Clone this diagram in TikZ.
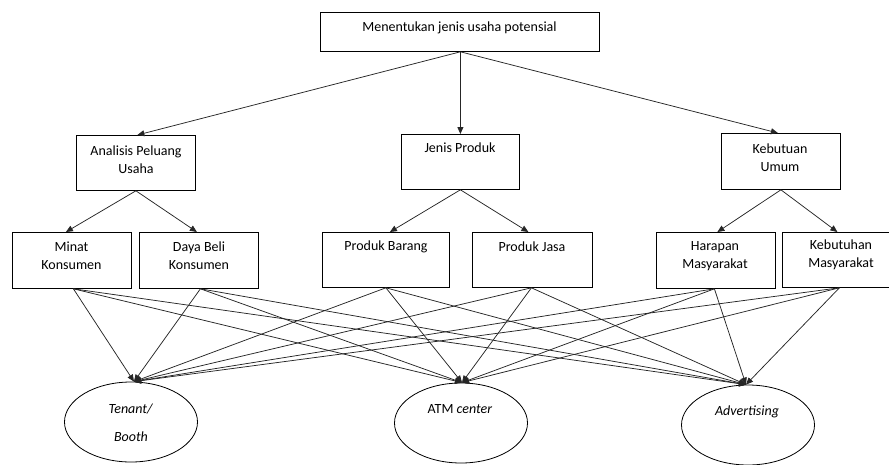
\documentclass[tikz,border=0pt]{standalone}
\usepackage{fontspec}
\setmainfont{Carlito}
\usetikzlibrary{shapes.geometric,arrows.meta}
\begin{document}
\begin{tikzpicture}[x=1pt,y=-1pt,
  box/.style={draw, line width=0.8pt, inner sep=0pt, anchor=north west},
  txt/.style={font=\fontsize{14}{18}\selectfont, align=center, inner sep=0pt},
  oval/.style={draw, ellipse, line width=0.8pt, inner sep=0pt, minimum width=133pt, minimum height=80pt},
  arr/.style={-{Triangle[length=7pt,width=6pt]}, line width=0.75pt, draw=black!85}]
\useasboundingbox (0,0) rectangle (889,464);

% boxes
\node[box, minimum width=279pt, minimum height=39pt] (top) at (320,12) {};
\node[box, minimum width=119pt, minimum height=55pt] (ana) at (76,135) {};
\node[box, minimum width=118pt, minimum height=55pt] (jen) at (401,134) {};
\node[box, minimum width=119pt, minimum height=56pt] (keb) at (721,133) {};
\node[box, minimum width=119pt, minimum height=56pt] (min) at (12,232) {};
\node[box, minimum width=119pt, minimum height=56pt] (day) at (139,232) {};
\node[box, minimum width=127pt, minimum height=55pt] (bar) at (322,232) {};
\node[box, minimum width=120pt, minimum height=55pt] (jas) at (472,232) {};
\node[box, minimum width=119pt, minimum height=56pt] (har) at (656,232) {};
\node[box, minimum width=118pt, minimum height=55pt] (kbm) at (782,232) {};

% texts
\node[txt] (ttop) at (459.5,28) {Menentukan jenis usaha potensial};
\node[txt] (tana) at (136,159.5) {Analisis Peluang\\Usaha};
\node[txt] (tjen) at (460,148) {Jenis Produk};
\node[txt] (tkeb) at (780,158) {Kebutuan\\Umum};
\node[txt] (tmin) at (71.5,256) {Minat\\Konsumen};
\node[txt] (tday) at (199,256) {Daya Beli\\Konsumen};
\node[txt] (tbar) at (386,247) {Produk Barang};
\node[txt] (tjas) at (532,247) {Produk Jasa};
\node[txt] (thar) at (715,256) {Harapan\\Masyarakat};
\node[txt] (tkbm) at (841,255) {Kebutuhan\\Masyarakat};

% ellipses
\node[oval] (ten) at (131,422) {};
\node[oval] (atm) at (461,423) {};
\node[oval] (adv) at (748,425) {};
\node[txt] (tten) at (131,409) {\textit{Tenant/}};
\node[txt] (tten2) at (131,437) {\textit{Booth}};
\node[txt] (tatm) at (460,409) {ATM \textit{center}};
\node[txt] (tadv) at (747,412) {\textit{Advertising}};

% level 1 -> level 2
\draw[arr] ([xshift=0.5pt]top.south) -- ([xshift=1.5pt]ana.north);
\draw[arr] ([xshift=0.5pt]top.south) -- (jen.north);
\draw[arr] ([xshift=0.5pt]top.south) -- ([xshift=-3pt]keb.north);

% level 2 -> level 3
\draw[arr] (ana.south) -- ([xshift=-6pt]min.north);
\draw[arr] (ana.south) -- ([xshift=-2pt]day.north);
\draw[arr] (jen.south) -- ([xshift=4pt]bar.north);
\draw[arr] (jen.south) -- ([xshift=-4pt]jas.north);
\draw[arr] (keb.south) -- ([xshift=1.5pt]har.north);
\draw[arr] (keb.south) -- ([xshift=-4pt]kbm.north);

% level 3 -> outcomes
\foreach \s/\dx in {min/1.5, day/1.5, bar/0, jas/-1, har/-1.5, kbm/-2}{
  \foreach \e/\ex in {ten/3, atm/1, adv/-2}{
    \draw[arr] ([xshift=\dx pt]\s.south) -- ([xshift=\ex pt]\e.north);
  }
}
\end{tikzpicture}
\end{document}
